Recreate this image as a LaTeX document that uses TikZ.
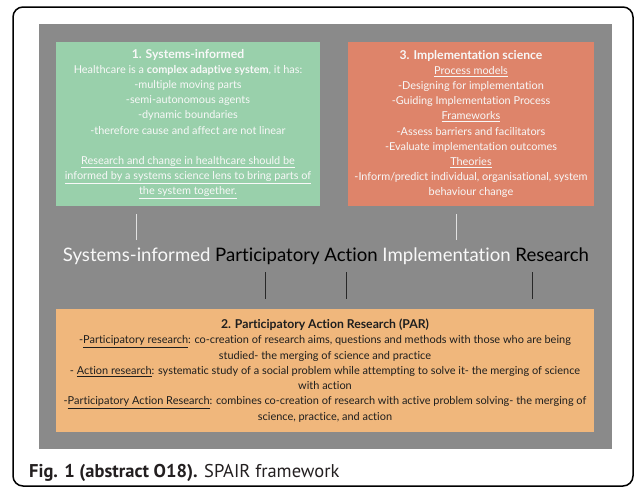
\documentclass[tikz,border=0pt]{standalone}
\usepackage{fontspec}
\setmainfont{Lato}[Ligatures=NoCommon]
\newfontfamily\capfont{PT Sans}
\definecolor{graybg}{RGB}{138,138,138}
\definecolor{greenbox}{RGB}{153,208,171}
\definecolor{redbox}{RGB}{222,132,106}
\definecolor{orangebox}{RGB}{240,183,124}
\definecolor{lighttxt}{RGB}{248,248,248}
\definecolor{darktxt}{RGB}{30,30,30}
\definecolor{capcol}{RGB}{35,31,32}
\definecolor{upline}{RGB}{225,225,225}
\definecolor{lowline}{RGB}{40,40,40}
\begin{document}
\begin{tikzpicture}[x=1pt,y=-1pt,
  panel/.style={inner sep=0pt, outer sep=0pt, anchor=north west},
  boxtext/.style={align=center, inner sep=0pt, font=\fontsize{10.9}{15.1}\selectfont},
  upstroke/.style={draw=upline, line width=1pt},
  lowstroke/.style={draw=lowline, line width=1pt}]
\useasboundingbox (0,0) rectangle (635,488);
\draw[line width=1.5pt, rounded corners=10pt] (13,7) rectangle (633,486);
\node[panel, fill=graybg, minimum width=573, minimum height=425] (bg) at (39,24) {};
\node[panel, fill=greenbox, minimum width=264, minimum height=164] (green) at (56,42) {};
\node[panel, fill=redbox, minimum width=246, minimum height=164] (red) at (348,42) {};
\node[panel, fill=orangebox, minimum width=538, minimum height=123] (orange) at (56,309) {};

\node[boxtext, text=lighttxt] (greentxt) at (green.center) {%
{\fontsize{12.2}{15.1}\selectfont\bfseries 1. Systems-informed}\\
Healthcare is a \textbf{complex adaptive system}, it has:\\
-multiple moving parts\\
-semi-autonomous agents\\
-dynamic boundaries\\
-therefore cause and affect are not linear\\
\mbox{}\\
\underline{Research and change in healthcare should be}\\
\underline{informed by a systems science lens to bring parts of}\\
\underline{the system together.}};

\node[boxtext, text=lighttxt] (redtxt) at (red.center) {%
{\fontsize{12.2}{15.1}\selectfont\bfseries 3. Implementation science}\\
\underline{Process models}\\
-Designing for implementation\\
-Guiding Implementation Process\\
\underline{Frameworks}\\
-Assess barriers and facilitators\\
-Evaluate implementation outcomes\\
\underline{Theories}\\
-Inform/predict individual, organisational, system\\
behaviour change};

\node[boxtext, text=darktxt, font=\fontsize{10.95}{15.3}\selectfont] (orangetxt) at (orange.center) {%
{\fontsize{12.2}{15.3}\selectfont\bfseries 2. Participatory Action Research (PAR)}\\
-\underline{Participatory research}: co-creation of research aims, questions and methods with those who are being\\
studied- the merging of science and practice\\
- \underline{Action research}: systematic study of a social problem while attempting to solve it- the merging of science\\
with action\\
-\underline{Participatory Action Research}: combines co-creation of research with active problem solving- the merging of\\
science, practice, and action};

\node[anchor=base, inner sep=0pt, font=\fontsize{18.6}{20}\selectfont] (spair) at (326,261)
  {\textcolor{lighttxt}{Systems-informed} \textcolor{black}{Participatory Action} \textcolor{lighttxt}{Implementation} \textcolor{black}{Research}};

\coordinate (u1a) at (136,214); \coordinate (u1b) at (136,240);
\coordinate (u2a) at (456,214); \coordinate (u2b) at (456,240);
\coordinate (l1a) at (265,272); \coordinate (l1b) at (265,299);
\coordinate (l2a) at (346,272); \coordinate (l2b) at (346,299);
\coordinate (l3a) at (532,272); \coordinate (l3b) at (532,299);
\draw[upstroke] (u1a) -- (u1b);
\draw[upstroke] (u2a) -- (u2b);
\draw[lowstroke] (l1a) -- (l1b);
\draw[lowstroke] (l2a) -- (l2b);
\draw[lowstroke] (l3a) -- (l3b);

\node[anchor=base west, inner sep=0pt, text=capcol, font=\capfont\fontsize{18.5}{20}\selectfont] (cap) at (29,477)
  {\textbf{Fig. 1 (abstract O18).} SPAIR framework};
\end{tikzpicture}
\end{document}
